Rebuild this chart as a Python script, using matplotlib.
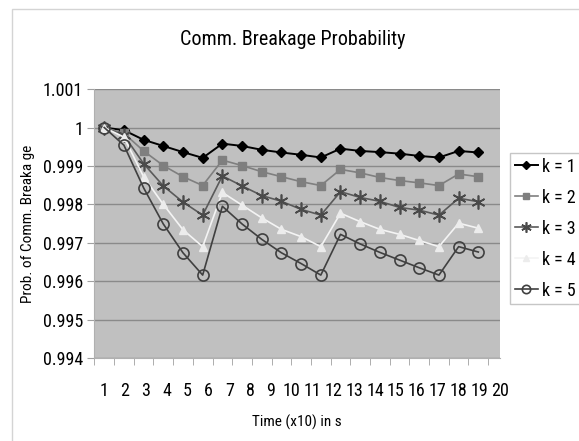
import numpy as np
import matplotlib
matplotlib.use('Agg')
import matplotlib.pyplot as plt
from matplotlib.patches import Rectangle

plt.rcParams['font.family'] = ['Roboto Condensed', 'DejaVu Sans Condensed', 'Liberation Sans Narrow',
                               'Roboto', 'DejaVu Sans']

# Time steps (x10 s) and probabilities per k
time = list(range(1, 21))
k1 = [1.0, 0.99993, 0.99968, 0.99952, 0.99936, 0.99921, 0.99958, 0.99952, 0.99942, 0.99935,
      0.99929, 0.99922, 0.99945, 0.99939, 0.99936, 0.99932, 0.99926, 0.99922, 0.99939, 0.99935]
k2 = [1.0, 0.99985, 0.99939, 0.99901, 0.99872, 0.99849, 0.99915, 0.99901, 0.99885, 0.99872,
      0.99859, 0.99849, 0.99891, 0.99882, 0.99870, 0.99862, 0.99856, 0.99849, 0.99879, 0.99872]
k3 = [1.0, 0.99980, 0.99906, 0.99848, 0.99806, 0.99772, 0.99874, 0.99848, 0.99823, 0.99808,
      0.99787, 0.99772, 0.99833, 0.99818, 0.99808, 0.99792, 0.99785, 0.99772, 0.99816, 0.99807]
k4 = [1.0, 0.99975, 0.99872, 0.99800, 0.99734, 0.99690, 0.99831, 0.99798, 0.99765, 0.99735,
      0.99716, 0.99690, 0.99777, 0.99755, 0.99735, 0.99722, 0.99706, 0.99690, 0.99751, 0.99738]
k5 = [1.0, 0.99954, 0.99843, 0.99749, 0.99674, 0.99616, 0.99795, 0.99749, 0.99709, 0.99674,
      0.99646, 0.99616, 0.99722, 0.99697, 0.99675, 0.99655, 0.99635, 0.99616, 0.99690, 0.99676]
labels = ['k = 1', 'k = 2', 'k = 3', 'k = 4', 'k = 5']

fig = plt.figure(figsize=(5.79, 4.41), dpi=100)
ax = fig.add_axes([0.163, 0.188, 0.7006, 0.610])
ax.set_facecolor('#c0c0c0')

# outer chart border
fig.add_artist(Rectangle((12 / 579, -0.1), 1.2, 0.1 + (441 - 9) / 441,
                         transform=fig.transFigure, fill=False, ec='#d4d4d4', lw=1))

styles = [
    dict(color='black', lw=1.4, marker='D', ms=5, mfc='black', mec='black'),
    dict(color='#7f7f7f', lw=1.2, marker='s', ms=5.5, mfc='#7f7f7f', mec='#7f7f7f'),
    dict(color='#5a5a5a', lw=1.2, marker=(6, 2, 0), ms=10, mec='#4a4a4a', mew=1.2),
    dict(color='#f4f4f4', lw=1.2, marker='^', ms=6, mfc='#ececec', mec='#ececec'),
    dict(color='#404040', lw=1.2, marker='o', ms=8, mfc='none', mec='#404040', mew=1.2),
]
for ys, lab, st in zip([k1, k2, k3, k4, k5], labels, styles):
    ax.plot(time, ys, label=lab, **st)

ax.set_xlim(0.5, 20.5)
ax.set_ylim(0.994, 1.001)
ax.set_yticks(np.arange(0.994, 1.0011, 0.001))
ax.set_yticklabels(['0.994', '0.995', '0.996', '0.997', '0.998', '0.999', '1', '1.001'])
ax.yaxis.grid(True, color='#8a8a8a', lw=1)
ax.set_axisbelow(True)

# category boundaries as tick marks, labels drift a bit like the original
ax.set_xticks(np.arange(0.5, 21, 1), minor=True)
ax.set_xticks(1 + np.arange(20) * 1.058)
ax.set_xticklabels([str(t) for t in time])
ax.tick_params(axis='x', which='minor', length=5, color='#a0a0a0', direction='out')
ax.tick_params(axis='x', which='major', length=0, pad=17.5, labelsize=13)
ax.tick_params(axis='y', length=5, color='#a0a0a0', pad=3, labelsize=13)

for s in ['top', 'right']:
    ax.spines[s].set_visible(False)
for s in ['left', 'bottom']:
    ax.spines[s].set_color('#b0b0b0')

ax.set_xlabel('Time (x10) in s', fontsize=11, labelpad=10)
ax.set_ylabel('Prob. of Comm. Breaka ge', fontsize=11, labelpad=6)
fig.text(0.506, 0.91, 'Comm. Breakage Probability', ha='center', va='center', fontsize=14.5)

leg = ax.legend(loc='upper left', bbox_to_anchor=(510 / 579, 1 - 153 / 441),
                bbox_transform=fig.transFigure, fontsize=13, frameon=True, fancybox=False,
                handlelength=1.3, handletextpad=0.2, borderpad=0.25, labelspacing=0.72,
                borderaxespad=0, markerscale=0.75)
leg.get_frame().set_edgecolor('#b8b8b8')
leg.get_frame().set_linewidth(1)

fig.savefig('out.png', dpi=100)
